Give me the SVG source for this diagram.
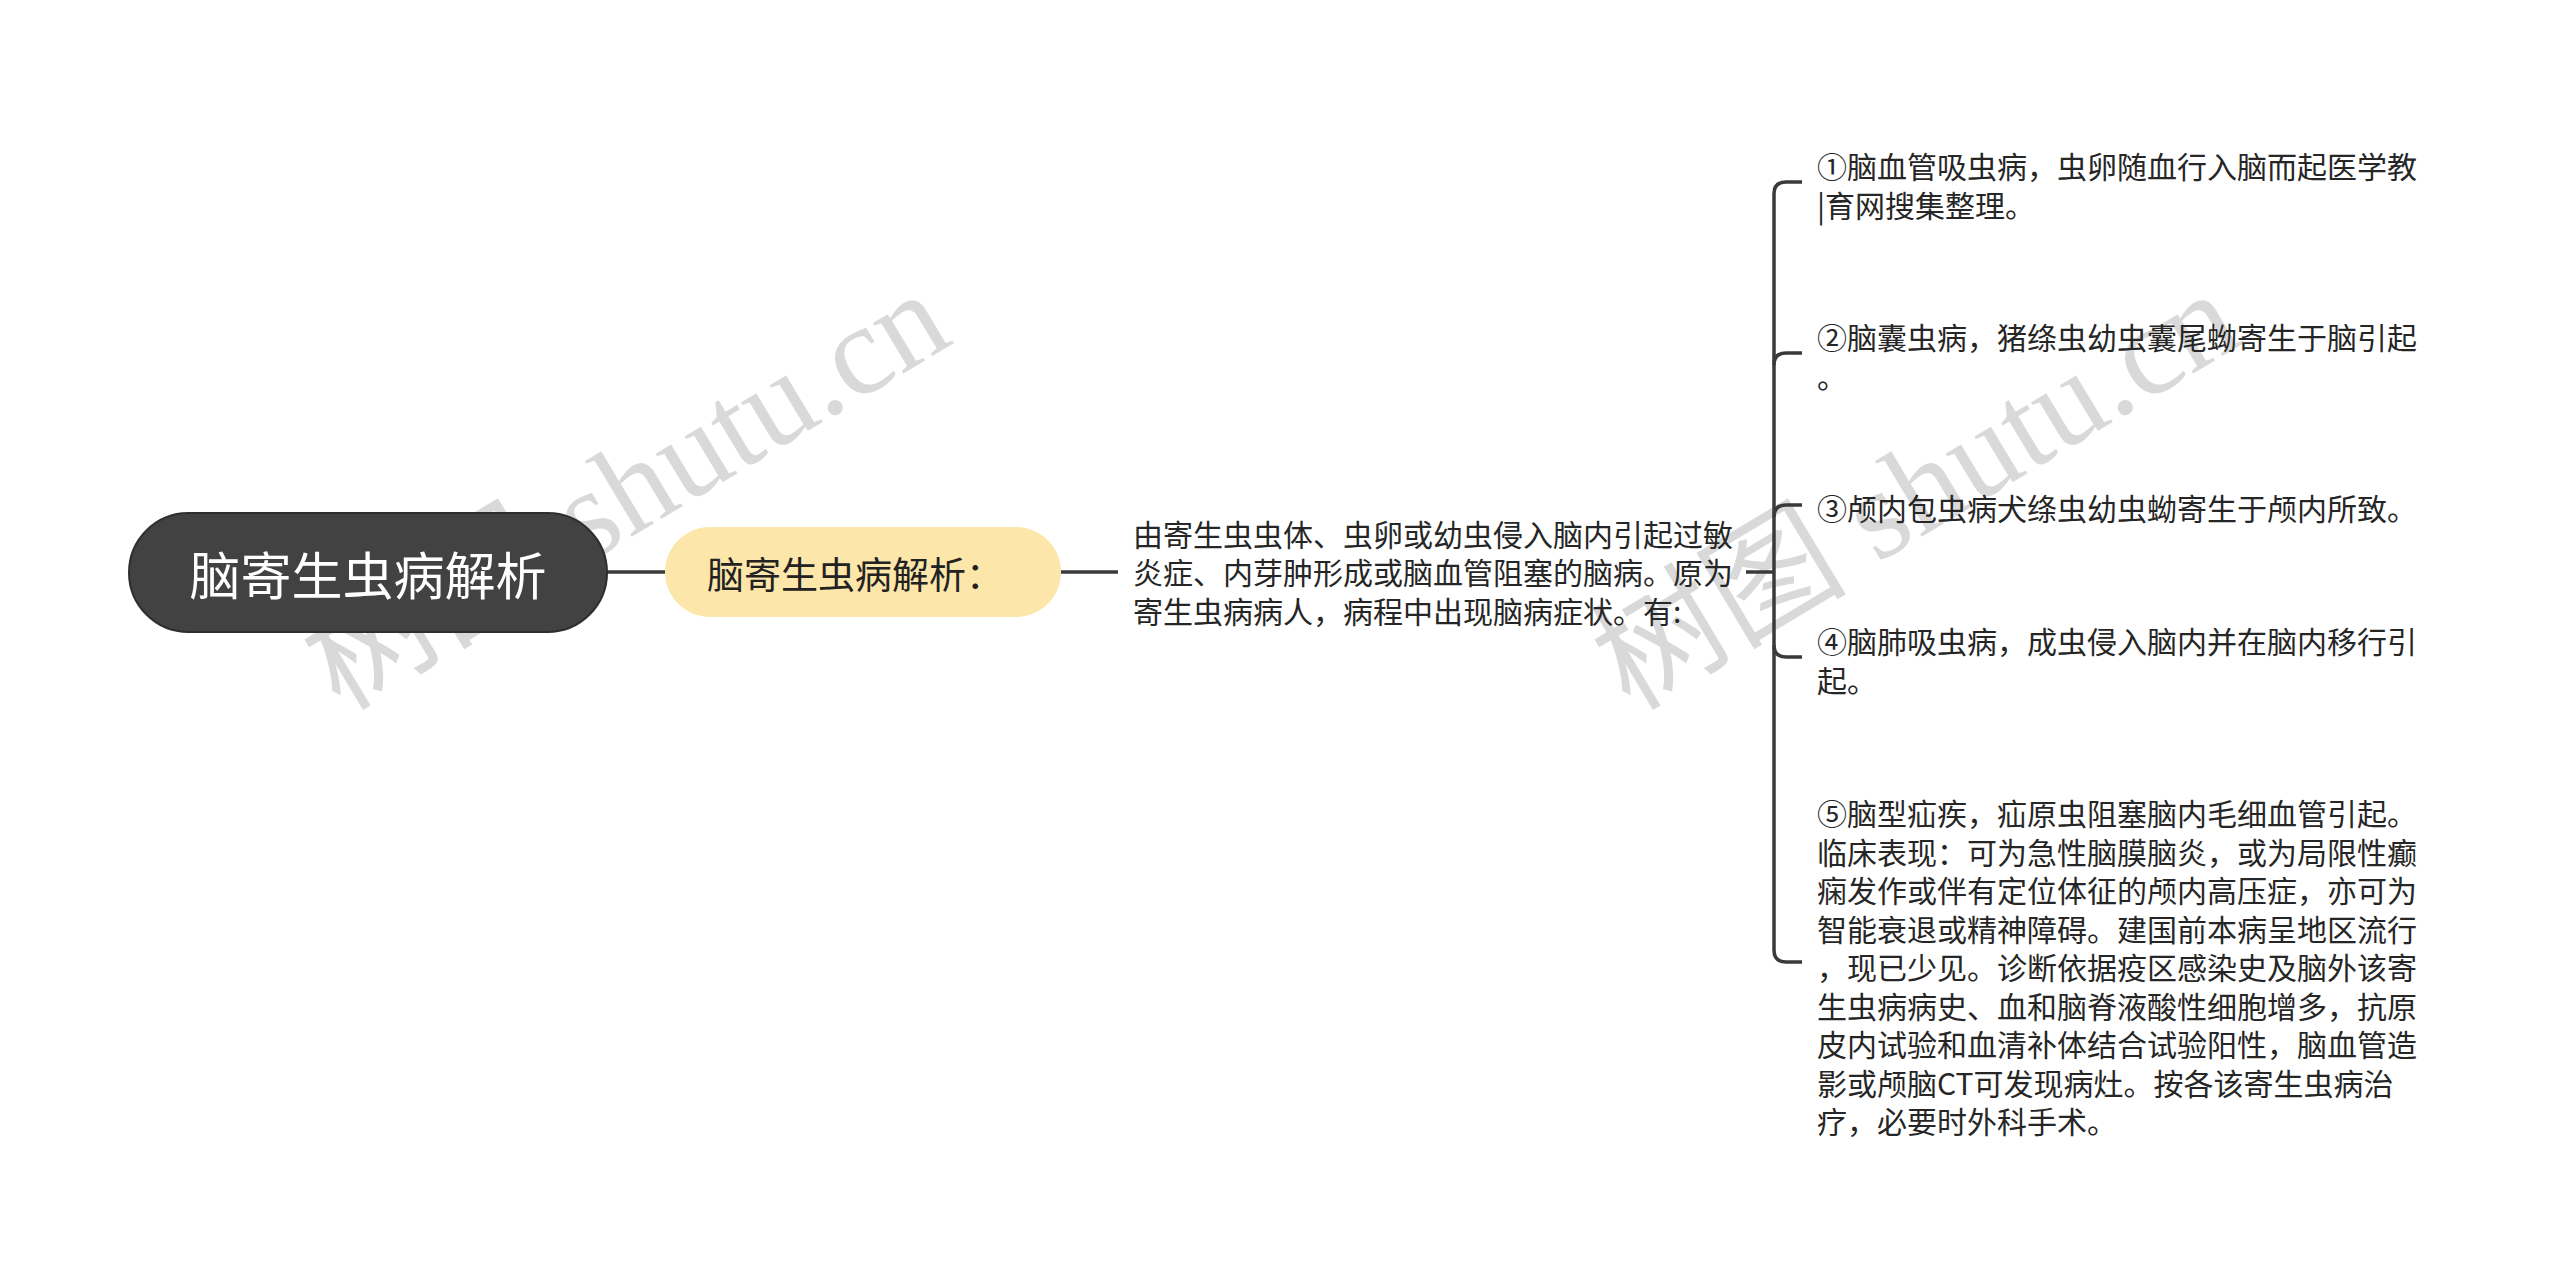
<svg xmlns="http://www.w3.org/2000/svg" width="2560" height="1280" viewBox="0 0 2560 1280">
<style>
.bg{fill:#ffffff}
.conn{fill:none;stroke:#3a3a3a;stroke-width:3.5;stroke-linecap:butt}
.root-box{fill:#424242;stroke:#2e2e2e;stroke-width:2}
.root-txt{font-family:"Noto Sans CJK SC","Noto Sans",sans-serif;font-size:51px;fill:#ffffff}
.mid-box{fill:#fde6a9}
.mid-txt{font-family:"Noto Sans CJK SC","Noto Sans",sans-serif;font-size:37px;fill:#222222}
.body{font-family:"Noto Sans CJK SC","Noto Sans",sans-serif;font-size:30px;fill:#262626}
.wm{font-family:"Liberation Serif","Noto Sans CJK SC",serif;font-size:128px;fill:#808080;fill-opacity:0.3}
</style>
<rect class="bg" x="0" y="0" width="2560" height="1280"/>
<g id="watermarks">
<text class="wm" transform="translate(340 712) rotate(-31)">树图 shutu.cn</text>
<text class="wm" transform="translate(1630 712) rotate(-31)">树图 shutu.cn</text>
</g>
<g id="connectors">
<path class="conn" d="M607 572 H665"/>
<path class="conn" d="M1061 572 H1118"/>
<path class="conn" d="M1746 572 H1774"/>
<path class="conn" d="M1802 182 H1786 Q1774 182 1774 194 V950 Q1774 962 1786 962 H1802"/>
<path class="conn" d="M1802 353 H1786 Q1774 353 1774 365"/>
<path class="conn" d="M1802 505 H1786 Q1774 505 1774 517"/>
<path class="conn" d="M1802 657 H1786 Q1774 657 1774 645"/>
</g>
<g id="root">
<rect class="root-box" x="129" y="513" width="478" height="119" rx="59.5"/>
<text class="root-txt" x="368" y="573" text-anchor="middle" dominant-baseline="central">脑寄生虫病解析</text>
</g>
<g id="mid">
<rect class="mid-box" x="665" y="527" width="396" height="90" rx="45"/>
<text class="mid-txt" x="707" y="573" dominant-baseline="central">脑寄生虫病解析：</text>
</g>
<g id="desc">
<text class="body" x="1133" y="533" dominant-baseline="central">由寄生虫虫体、虫卵或幼虫侵入脑内引起过敏</text>
<text class="body" x="1133" y="571" dominant-baseline="central">炎症、内芽肿形成或脑血管阻塞的脑病。原为</text>
<text class="body" x="1133" y="610" dominant-baseline="central">寄生虫病病人，病程中出现脑病症状。有:</text>
</g>
<g id="item1">
<text class="body" x="1817" y="165" dominant-baseline="central">①脑血管吸虫病，虫卵随血行入脑而起医学教</text>
<text class="body" x="1817" y="204" dominant-baseline="central">|育网搜集整理。</text>
</g>
<g id="item2">
<text class="body" x="1817" y="336" dominant-baseline="central">②脑囊虫病，猪绦虫幼虫囊尾蚴寄生于脑引起</text>
<text class="body" x="1817" y="375" dominant-baseline="central">。</text>
</g>
<g id="item3">
<text class="body" x="1817" y="507" dominant-baseline="central">③颅内包虫病犬绦虫幼虫蚴寄生于颅内所致。</text>
</g>
<g id="item4">
<text class="body" x="1817" y="640" dominant-baseline="central">④脑肺吸虫病，成虫侵入脑内并在脑内移行引</text>
<text class="body" x="1817" y="679" dominant-baseline="central">起。</text>
</g>
<g id="item5">
<text class="body" x="1817" y="812" dominant-baseline="central">⑤脑型疝疾，疝原虫阻塞脑内毛细血管引起。</text>
<text class="body" x="1817" y="850.5" dominant-baseline="central">临床表现：可为急性脑膜脑炎，或为局限性癫</text>
<text class="body" x="1817" y="889" dominant-baseline="central">痫发作或伴有定位体征的颅内高压症，亦可为</text>
<text class="body" x="1817" y="927.5" dominant-baseline="central">智能衰退或精神障碍。建国前本病呈地区流行</text>
<text class="body" x="1817" y="966" dominant-baseline="central">，现已少见。诊断依据疫区感染史及脑外该寄</text>
<text class="body" x="1817" y="1004.5" dominant-baseline="central">生虫病病史、血和脑脊液酸性细胞增多，抗原</text>
<text class="body" x="1817" y="1043" dominant-baseline="central">皮内试验和血清补体结合试验阳性，脑血管造</text>
<text class="body" x="1817" y="1081.5" dominant-baseline="central">影或颅脑CT可发现病灶。按各该寄生虫病治</text>
<text class="body" x="1817" y="1120" dominant-baseline="central">疗，必要时外科手术。</text>
</g>
</svg>
